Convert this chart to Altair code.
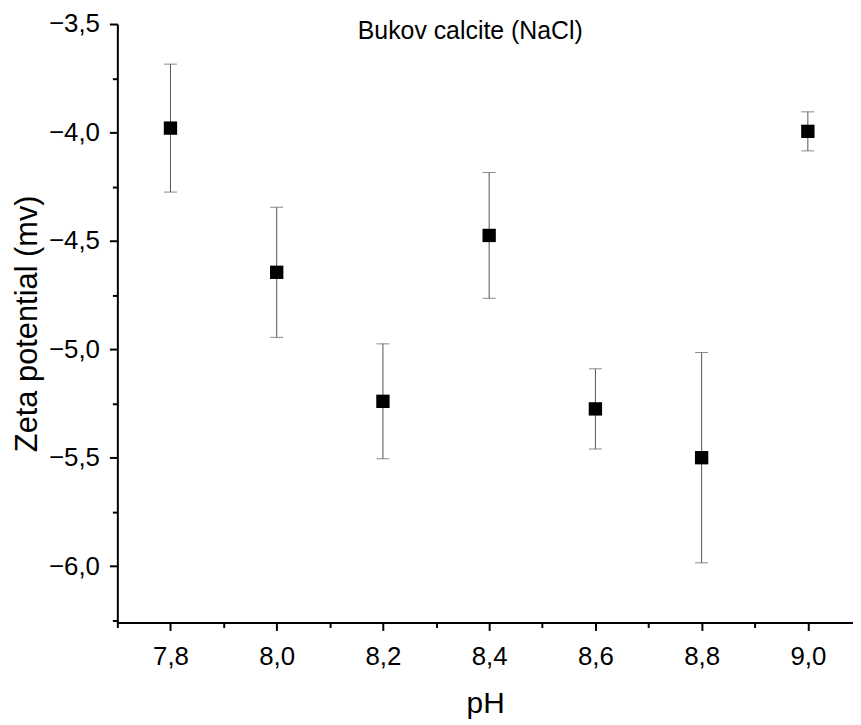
import altair as alt
import pandas as pd

ph = [7.8, 8.0, 8.2, 8.4, 8.6, 8.8, 9.0]
zeta = [-3.98, -4.645, -5.24, -4.475, -5.275, -5.50, -3.995]
err = [0.295, 0.30, 0.265, 0.29, 0.185, 0.485, 0.09]

x_major = [7.8, 8.0, 8.2, 8.4, 8.6, 8.8, 9.0]
x_minor = [7.7, 7.9, 8.1, 8.3, 8.5, 8.7, 8.9]
y_major = [-6.0, -5.5, -5.0, -4.5, -4.0, -3.5]
y_minor = [-6.25, -5.75, -5.25, -4.75, -4.25, -3.75]

df = pd.DataFrame({"ph": ph, "zeta": zeta, "err": err})
df["lo"] = df["zeta"] - df["err"]
df["hi"] = df["zeta"] + df["err"]

FONT = "Liberation Sans"
lab_expr = "replace(format(datum.value, '.1f'), '.', ',')"

xs = alt.Scale(domain=[7.7, 9.085], nice=False, zero=False)
ys = alt.Scale(domain=[-6.26, -3.5], nice=False, zero=False)

common_axis = dict(domainColor="black", domainWidth=2, tickColor="black", tickWidth=2,
                   grid=False, labelFont=FONT, titleFont=FONT, labelColor="black",
                   titleColor="black", titleFontWeight="normal")

x_axis_major = alt.Axis(values=x_major, tickSize=8, labelFontSize=26, labelPadding=13,
                        labelExpr=lab_expr, title="pH", titleFontSize=30, titlePadding=20,
                        orient="bottom", **common_axis)
y_axis_major = alt.Axis(values=y_major, tickSize=8, labelFontSize=26, labelPadding=10,
                        labelExpr=lab_expr, title="Zeta potential (mv)", titleFontSize=31,
                        titlePadding=5, orient="left", **common_axis)
x_axis_minor = alt.Axis(values=x_minor, tickSize=5, labels=False, title=None, orient="bottom",
                        domain=False, grid=False, tickColor="black", tickWidth=2)
y_axis_minor = alt.Axis(values=y_minor, tickSize=5, labels=False, title=None, orient="left",
                        domain=False, grid=False, tickColor="black", tickWidth=2)

base = alt.Chart(df)

rules = base.mark_rule(color="#555555", strokeWidth=1).encode(
    x=alt.X("ph:Q", scale=xs, axis=x_axis_minor),
    y=alt.Y("lo:Q", scale=ys, axis=y_axis_minor),
    y2="hi:Q",
)
caps_lo = base.mark_tick(color="#555555", thickness=1, size=13, orient="horizontal").encode(
    x=alt.X("ph:Q", scale=xs, axis=None),
    y=alt.Y("lo:Q", scale=ys, axis=None),
)
caps_hi = base.mark_tick(color="#555555", thickness=1, size=13, orient="horizontal").encode(
    x=alt.X("ph:Q", scale=xs, axis=None),
    y=alt.Y("hi:Q", scale=ys, axis=None),
)
points = base.mark_square(color="black", filled=True, opacity=1, size=180).encode(
    x=alt.X("ph:Q", scale=xs, axis=x_axis_major),
    y=alt.Y("zeta:Q", scale=ys, axis=y_axis_major),
)

chart = alt.layer(rules, caps_lo, caps_hi, points).resolve_axis(
    x="independent", y="independent"
).properties(
    width=740, height=602,
    title=alt.TitleParams("Bukov calcite (NaCl)", font=FONT, fontSize=25, fontWeight="normal",
                          color="black", anchor="middle", offset=-33, dx=-15),
    autosize=alt.AutoSizeParams(type="none"),
    padding={"left": 110, "top": 14, "right": 0, "bottom": 100},
).configure_view(stroke=None)

chart.save("out.html", embed_options={"renderer": "svg", "actions": False})
